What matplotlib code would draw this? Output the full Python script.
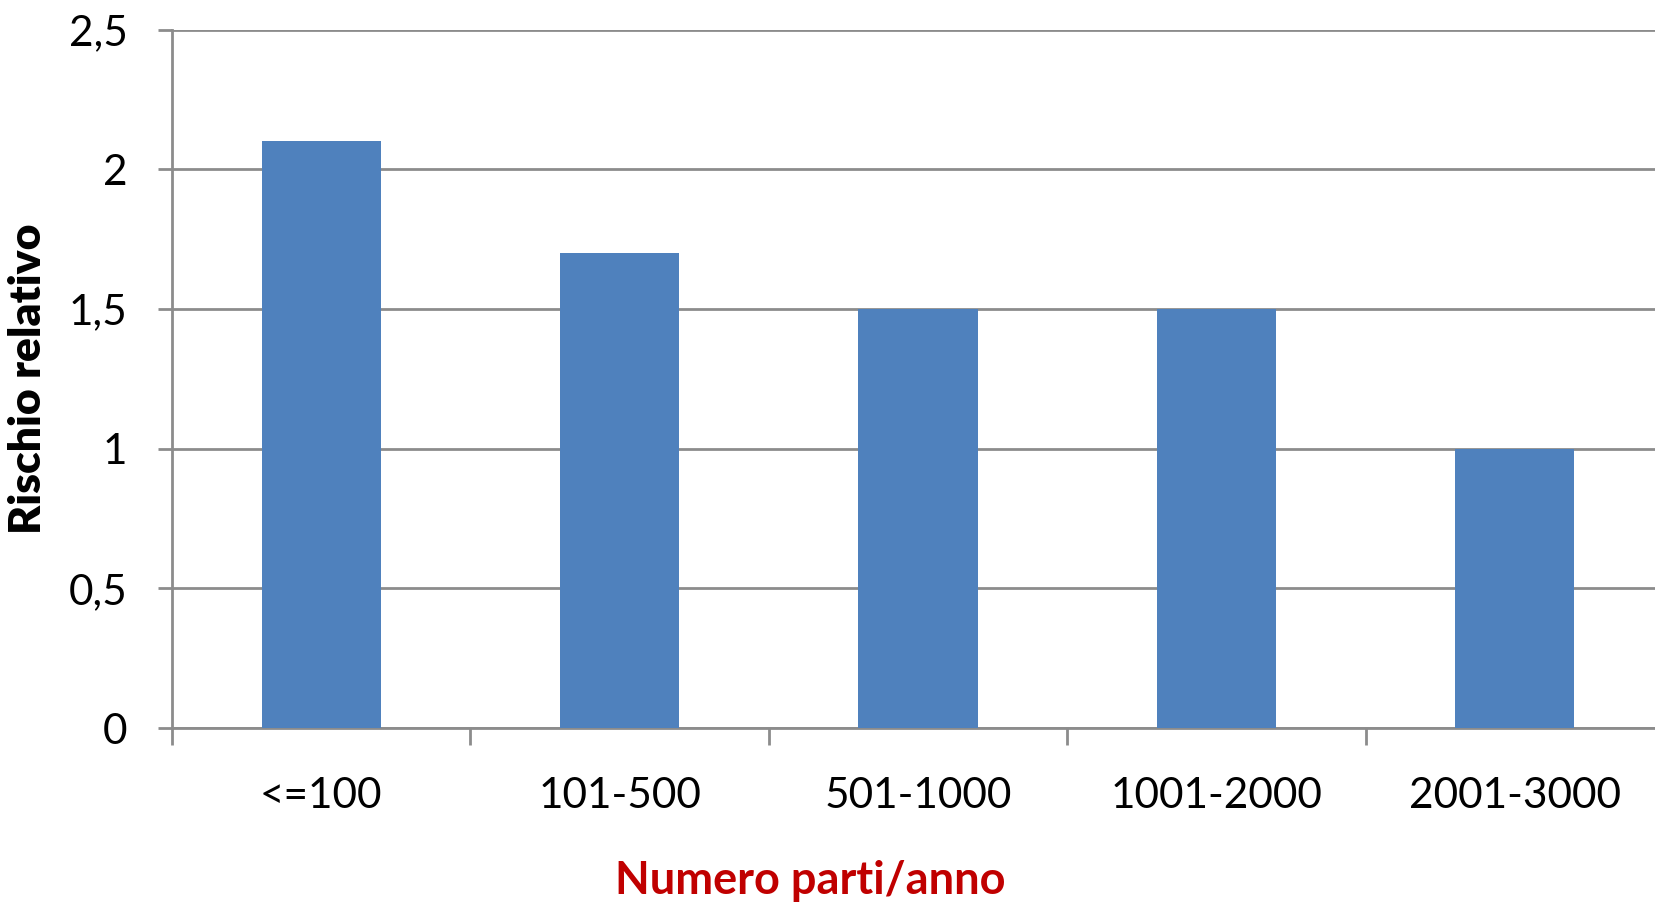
import numpy as np
import matplotlib.pyplot as plt

categorie = ['<=100', '101-500', '501-1000', '1001-2000', '2001-3000']
rischio = [2.1, 1.7, 1.5, 1.5, 1.0]
yticks = [0, 0.5, 1, 1.5, 2, 2.5]
ytick_labels = ['0', '0,5', '1', '1,5', '2', '2,5']

plt.rcParams['font.family'] = ['Lato', 'DejaVu Sans']
grigio = '#8c8c8c'

fig = plt.figure(figsize=(16.55, 9.05), dpi=100)
ax = fig.add_axes([172/1655, 1 - 728/905, (1664 - 172)/1655, (728 - 29.6)/905])

x = np.arange(len(categorie))
ax.bar(x, rischio, width=0.4, color='#4F81BD', zorder=3)

ax.set_xlim(-0.5, len(categorie) - 0.5)
ax.set_ylim(0, 2.5)
ax.set_yticks(yticks)
ax.set_yticklabels(ytick_labels)
ax.set_xticks(x)
ax.set_xticklabels(categorie)
ax.set_xticks(np.arange(len(categorie) + 1) - 0.5, minor=True)

ax.yaxis.grid(True, color=grigio, linewidth=2, zorder=0)
for s in ['top', 'right']:
    ax.spines[s].set_visible(False)
for s in ['left', 'bottom']:
    ax.spines[s].set_color(grigio)
    ax.spines[s].set_linewidth(2)

ax.tick_params(axis='y', direction='out', length=10, width=2, color=grigio,
               labelsize=30.5, pad=22)
ax.tick_params(axis='x', which='major', length=0, labelsize=30.5, pad=35)
ax.tick_params(axis='x', which='minor', direction='out', length=12, width=2, color=grigio)

ax.set_ylabel('Rischio relativo', fontsize=32, fontweight='heavy')
ax.yaxis.set_label_coords(-0.083, 0.5)
fig.text(810/1655, 1 - 881/905, 'Numero parti/anno', fontsize=32.5, fontweight='bold',
         color='#C00000', ha='center', va='center')

fig.savefig('out.png', dpi=100)
